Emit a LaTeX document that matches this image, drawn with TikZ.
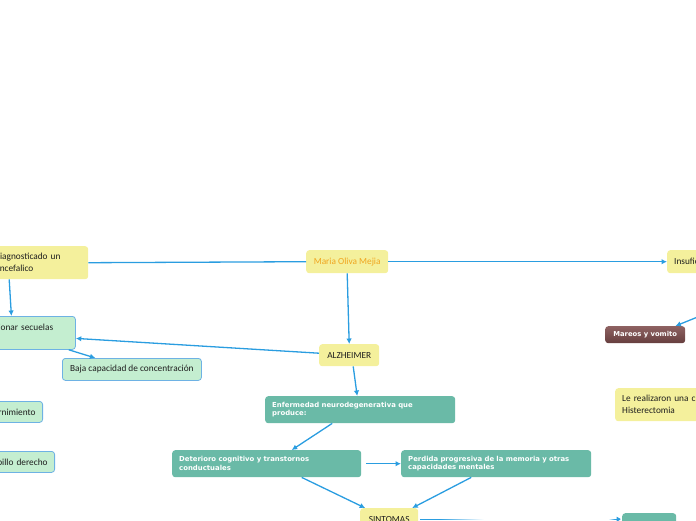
\documentclass[tikz,border=0pt]{standalone}
\usepackage{fontspec}
\setmainfont{Carlito}
\newfontfamily\boldsans{DejaVu Sans}
\usetikzlibrary{arrows.meta,fadings}

\definecolor{mapyellow}{RGB}{244,240,156}
\definecolor{mapgreen}{RGB}{196,238,208}
\definecolor{mapedge}{RGB}{110,178,228}
\definecolor{mapteal}{RGB}{106,186,167}
\definecolor{mapbrowntop}{RGB}{142,98,98}
\definecolor{mapbrownbot}{RGB}{102,62,62}
\definecolor{mapline}{RGB}{42,157,224}
\definecolor{maporange}{RGB}{240,165,30}
\definecolor{maptext}{RGB}{30,30,30}

\pgfdeclarehorizontalshading{gapshading}{100bp}{color(0bp)=(pgftransparent!0); color(10bp)=(pgftransparent!0); color(32bp)=(pgftransparent!100); color(94bp)=(pgftransparent!100); color(97bp)=(pgftransparent!0); color(100bp)=(pgftransparent!0)}
\pgfdeclarefading{gapfade}{\pgfuseshading{gapshading}}

\begin{document}
\begin{tikzpicture}[x=1pt,y=-1pt,font=\fontsize{9.3}{12}\selectfont,
  box/.style={rounded corners=3pt, anchor=north west, inner xsep=7pt, inner ysep=2pt, align=left, text=maptext},
  idea/.style={box, fill=mapyellow},
  leaf/.style={box, fill=mapgreen, draw=mapedge, line width=0.8pt},
  topic/.style={box, fill=mapteal, text=white, font=\fontsize{6.9}{8.7}\selectfont\boldsans\bfseries},
  alert/.style={box, top color=mapbrowntop, bottom color=mapbrownbot, text=white, font=\fontsize{6.8}{8.5}\selectfont\boldsans\bfseries},
  link/.style={draw=mapline, line width=1.3pt},
  arrow/.style={link, -{Latex[length=5.5pt,width=5.5pt]}}]
  \useasboundingbox (0,0) rectangle (696,520);

  \node[idea, text width=86pt, minimum height=33pt] (diag) at (-12,246) {diagnosticado un\\encefalico};
  \node[idea, minimum width=82pt, minimum height=23pt, align=center, text=maporange] (maria) at (306,250) {Maria Oliva Mejia};
  \node[idea, text width=142pt, minimum height=23pt] (insuf) at (667,250) {Insuficiencia};
  \node[leaf, text width=88pt, minimum height=33pt] (secu) at (-27,316) {Ocasionar secuelas\\\mbox{}};
  \node[leaf, minimum width=139pt, minimum height=22pt, align=center] (baja) at (62,358) {Baja capacidad de concentración};
  \node[leaf, anchor=north east, text width=80pt, minimum height=21pt, align=right] (disc) at (43,401) {Discernimiento};
  \node[leaf, anchor=north east, text width=80pt, minimum height=21pt, align=right] (tobi) at (55,451) {Tobillo derecho};
  \node[idea, minimum width=60pt, minimum height=22pt, align=center] (alz) at (319,344) {ALZHEIMER};
  \node[topic, text width=176pt, minimum height=27pt] (enf) at (265,396) {Enfermedad neurodegenerativa que\\produce:};
  \node[topic, text width=175pt, minimum height=27pt] (det) at (172,450) {Deterioro cognitivo y transtornos\\conductuales};
  \node[topic, text width=176pt, minimum height=27pt] (perd) at (401,450) {Perdida progresiva de la memoria y otras\\capacidades mentales};
  \node[idea, minimum width=58pt, minimum height=22pt, align=center] (sint) at (360,508) {SINTOMAS};
  \node[alert, minimum width=80pt, minimum height=17pt, align=center] (mar) at (605,326) {Mareos y vomito};
  \node[idea, text width=150pt, minimum height=33pt] (cirug) at (615,388) {Le realizaron una cirugia de\\Histerectomia};
  \node[topic, minimum width=54pt, minimum height=20pt] (trat) at (622,513) {};

  \draw[link] (maria.west) -- (diag.east);
  \draw[arrow] (maria.east) -- (insuf.west);
  \draw[arrow] (maria.south) -- (alz.north);
  \draw[arrow] ([xshift=-29pt]diag.south) -- ([xshift=-13pt]secu.north);
  \draw[arrow] ([yshift=2pt]alz.west) -- ([yshift=-5.5pt]secu.east);
  \draw[arrow] ([xshift=-7pt]secu.south east) -- ([xshift=-36.5pt]baja.north);
  \draw[arrow] ([xshift=4pt]alz.south) -- ([xshift=-3pt]enf.north);
  \draw[arrow] ([xshift=-28pt]enf.south) -- ([xshift=25pt]det.north);
  \draw[arrow, shorten <=5pt] (det.east) -- (perd.west);
  \draw[arrow] ([xshift=35pt]det.south) -- ([xshift=-24pt]sint.north);
  \draw[arrow] ([xshift=-25pt]perd.south) -- ([xshift=23pt]sint.north);
  \draw[arrow] ([xshift=60pt]insuf.south) -- ([xshift=-10pt]mar.north east);
  \draw[arrow, path fading=gapfade, fit fading=false, fading transform={shift={(520,519)},xscale=2}] (sint.east) -- ([yshift=4pt]trat.west);
\end{tikzpicture}
\end{document}
